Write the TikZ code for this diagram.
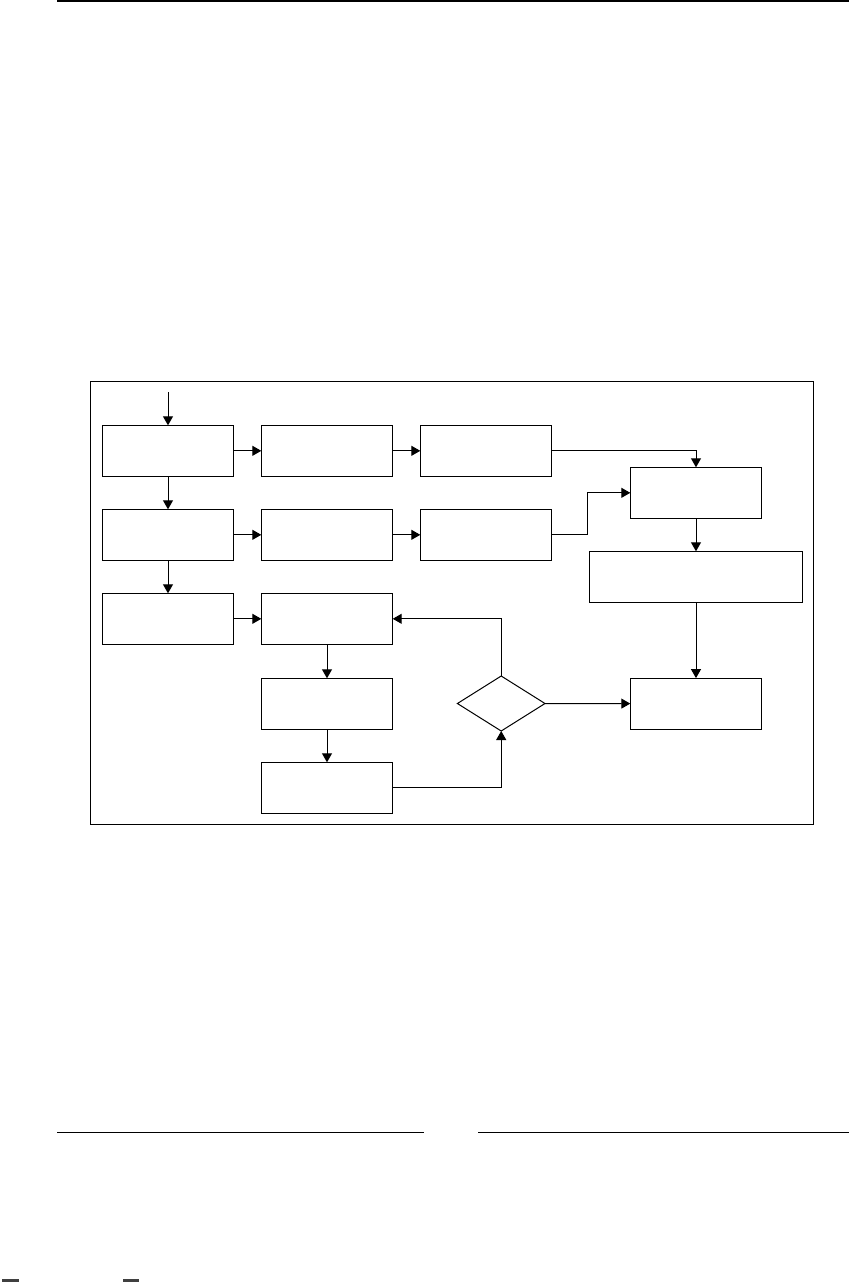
\documentclass[tikz,border=0pt]{standalone}
\usetikzlibrary{arrows.meta,shapes.geometric}
\begin{document}
\begin{tikzpicture}[x=1pt,y=-1pt,
  box/.style={draw,line width=1pt,rectangle,minimum width=131.4pt,minimum height=51pt,inner sep=0pt,outer sep=0pt},
  widebox/.style={box,minimum width=212.4pt},
  decision/.style={draw,line width=1pt,diamond,minimum width=87.6pt,minimum height=55pt,inner sep=0pt,outer sep=0pt},
  conn/.style={line width=1pt,-{Triangle[length=9pt,width=10pt]}},
  rule/.style={line width=1.5pt}]
\useasboundingbox (0,0) rectangle (849,1282);
% page rules
\coordinate (tl) at (57,1); \coordinate (tr) at (849,1);
\draw[rule] (tl) -- (tr);
\coordinate (bl1) at (57,1132.5); \coordinate (bl2) at (424,1132.5);
\coordinate (br1) at (478,1132.5); \coordinate (br2) at (849,1132.5);
\draw[rule] (bl1) -- (bl2);
\draw[rule] (br1) -- (br2);
\fill[black!75] (1.5,1279.3) rectangle (18.5,1282);
\fill[black!75] (122.5,1279.3) rectangle (138.5,1282);
% frame
\draw[line width=1.3pt] (90.3,381.3) rectangle (813.7,824.3);
% boxes
\node[box] (b11) at (168,450.8) {};
\node[box] (b12) at (327,450.8) {};
\node[box] (b13) at (486,450.8) {};
\node[box] (b21) at (168,534.8) {};
\node[box] (b22) at (327,534.8) {};
\node[box] (b23) at (486,534.8) {};
\node[box] (b31) at (168,618.8) {};
\node[box] (b32) at (327,618.8) {};
\node[box] (b42) at (327,703.8) {};
\node[box] (b52) at (327,787.8) {};
\node[box] (merge) at (696,492.8) {};
\node[widebox] (wide) at (696,576.8) {};
\node[box] (res) at (696,703.6) {};
\node[decision] (dec) at (501.2,703.5) {};
% connectors
\coordinate (start) at (168,392);
\draw[conn] (start) -- (b11.north);
\draw[conn] (b11) -- (b12);
\draw[conn] (b12) -- (b13);
\draw[conn] (b11) -- (b21);
\draw[conn] (b21) -- (b22);
\draw[conn] (b22) -- (b23);
\draw[conn] (b21) -- (b31);
\draw[conn] (b31) -- (b32);
\draw[conn] (b32) -- (b42);
\draw[conn] (b42) -- (b52);
\draw[conn] (b13.east) -| (merge.north);
\draw[conn] (b23.east) -- ++(35.6,0) |- (merge.west);
\draw[conn] (merge) -- (wide);
\draw[conn] (wide) -- (res);
\draw[conn] (b52.east) -| (dec.south);
\draw[conn] (dec.north) |- (b32.east);
\draw[conn] (dec.east) -- (res.west);
\end{tikzpicture}
\end{document}
